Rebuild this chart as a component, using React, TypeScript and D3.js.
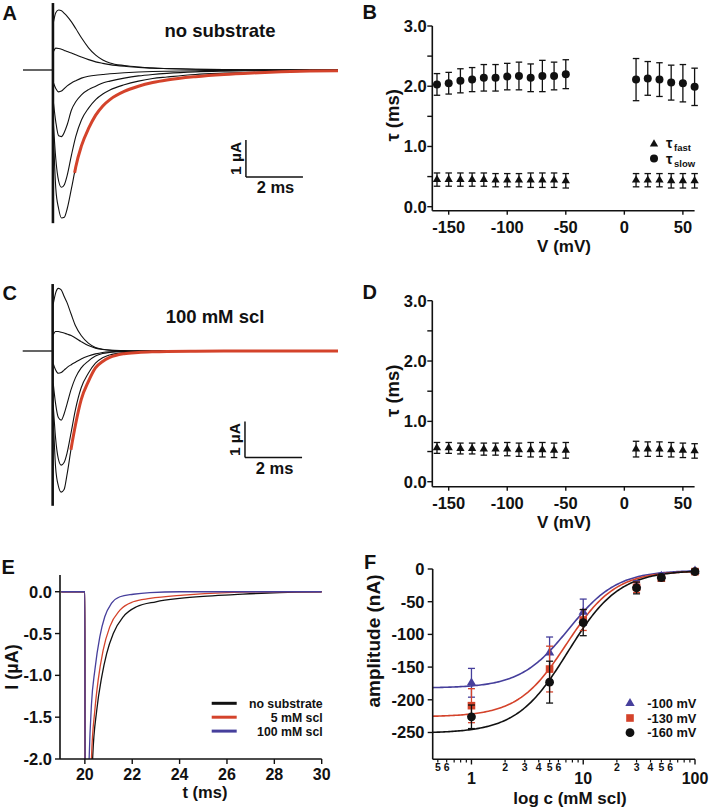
import React from 'react';
import * as d3 from 'd3';

const FONT = "'Liberation Sans', Arial, Helvetica, sans-serif";
const INK = '#111111';
const RED = '#d4432b';
const BLUE = '#463f9c';

// ---------- Panels A & C: currents (µA) sampled at times after the voltage step (ms)
const traceTimes = [0.02, 0.1, 0.2, 0.3, 0.4, 0.5, 0.65, 0.8, 1.0, 1.25, 1.5, 1.75, 2.0, 2.5, 3.0, 3.5, 4.0, 5.0, 6.0, 7.0, 8.0, 9.0, 10.0];
const traceA1 = [1.3, 1.55, 1.62, 1.6, 1.53, 1.45, 1.3, 1.12, 0.87, 0.6, 0.4, 0.27, 0.19, 0.12, 0.08, 0.055, 0.04, 0.02, 0.01, 0.005, 0, 0, 0];
const traceA2 = [0.5, 0.59, 0.58, 0.56, 0.53, 0.5, 0.46, 0.41, 0.35, 0.28, 0.22, 0.18, 0.145, 0.1, 0.072, 0.05, 0.038, 0.02, 0.012, 0.007, 0.004, 0.002, 0];
const traceA3 = [-0.35, -0.5, -0.59, -0.57, -0.5, -0.43, -0.35, -0.29, -0.22, -0.17, -0.14, -0.12, -0.1, -0.075, -0.055, -0.042, -0.033, -0.02, -0.012, -0.007, -0.004, -0.002, 0];
const traceA4 = [-0.9, -1.4, -1.78, -1.8, -1.68, -1.48, -1.08, -0.86, -0.67, -0.53, -0.44, -0.35, -0.3, -0.22, -0.16, -0.12, -0.09, -0.05, -0.03, -0.018, -0.01, -0.005, -0.002];
const traceA5 = [-1.5, -2.4, -3.0, -3.17, -3.1, -2.85, -2.3, -1.8, -1.35, -1.03, -0.8, -0.65, -0.54, -0.4, -0.3, -0.23, -0.19, -0.12, -0.085, -0.06, -0.04, -0.025, -0.015];
const traceA6 = [-1.8, -3.2, -3.75, -4.0, -3.98, -3.75, -3.2, -2.62, -2.05, -1.58, -1.22, -0.97, -0.8, -0.58, -0.44, -0.34, -0.27, -0.18, -0.12, -0.08, -0.05, -0.03, -0.02];
const redFitAT = [0.76, 0.8, 1.0, 1.25, 1.5, 1.75, 2.0, 2.5, 3.0, 3.5, 4.0, 5.0, 6.0, 7.0, 8.0, 9.0, 10.0];
const redFitAI = [-2.78, -2.62, -2.05, -1.58, -1.22, -0.97, -0.8, -0.58, -0.44, -0.34, -0.27, -0.18, -0.12, -0.08, -0.05, -0.03, -0.02];

const traceC1 = [1.3, 1.6, 1.74, 1.7, 1.52, 1.35, 1.02, 0.7, 0.43, 0.22, 0.1, 0.05, 0.025, 0.01, 0, 0, 0, 0, 0, 0, 0, 0, 0];
const traceC2 = [0.45, 0.54, 0.54, 0.52, 0.5, 0.47, 0.43, 0.36, 0.26, 0.15, 0.08, 0.04, 0.02, 0.005, 0, 0, 0, 0, 0, 0, 0, 0, 0];
const traceC3 = [-0.35, -0.52, -0.62, -0.6, -0.53, -0.46, -0.38, -0.31, -0.22, -0.14, -0.08, -0.04, -0.02, -0.005, 0, 0, 0, 0, 0, 0, 0, 0, 0];
const traceC4 = [-0.9, -1.45, -1.85, -1.92, -1.75, -1.48, -1.06, -0.74, -0.47, -0.28, -0.14, -0.07, -0.04, -0.01, 0, 0, 0, 0, 0, 0, 0, 0, 0];
const traceC5 = [-1.5, -2.4, -3.0, -3.17, -3.1, -2.85, -2.25, -1.62, -1.02, -0.62, -0.34, -0.19, -0.11, -0.045, -0.02, -0.01, 0, 0, 0, 0, 0, 0, 0];
const traceC6 = [-1.8, -3.2, -3.75, -3.92, -3.85, -3.45, -2.7, -2.05, -1.35, -0.85, -0.47, -0.29, -0.18, -0.075, -0.04, -0.022, -0.012, -0.005, 0, 0, 0, 0, 0];
const redFitCT = [0.64, 0.8, 1.0, 1.25, 1.5, 1.75, 2.0, 2.5, 3.0, 3.5, 4.0, 5.0, 6.0, 7.0, 8.0, 9.0, 10.0];
const redFitCI = [-2.74, -2.05, -1.35, -0.85, -0.47, -0.29, -0.18, -0.075, -0.04, -0.022, -0.012, -0.005, 0, 0, 0, 0, 0];

const preTimes = [-1.05, 0];
const artifactA = [1.81, -4.14];
const artifactC = [1.86, -4.3];

// ---------- Panels B & D: time constants (ms) vs voltage (mV)
const voltages = [-160, -150, -140, -130, -120, -110, -100, -90, -80, -70, -60, -50, 10, 20, 30, 40, 50, 60];
const tauSlowB = [2.03, 2.05, 2.09, 2.11, 2.14, 2.14, 2.16, 2.17, 2.14, 2.17, 2.17, 2.2, 2.11, 2.13, 2.11, 2.06, 2.05, 1.99];
const tauSlowErrB = [0.18, 0.18, 0.2, 0.2, 0.22, 0.22, 0.22, 0.23, 0.23, 0.26, 0.23, 0.24, 0.35, 0.28, 0.28, 0.29, 0.31, 0.31];
const tauFastB = [0.45, 0.45, 0.45, 0.45, 0.45, 0.44, 0.44, 0.44, 0.44, 0.44, 0.44, 0.43, 0.44, 0.44, 0.44, 0.43, 0.43, 0.43];
const tauFastErrB = [0.11, 0.11, 0.11, 0.11, 0.11, 0.11, 0.11, 0.11, 0.12, 0.12, 0.12, 0.12, 0.11, 0.11, 0.11, 0.12, 0.12, 0.12];
const tauFastD = [0.56, 0.56, 0.55, 0.55, 0.54, 0.54, 0.54, 0.53, 0.53, 0.53, 0.52, 0.52, 0.54, 0.54, 0.54, 0.53, 0.52, 0.51];
const tauFastErrD = [0.09, 0.09, 0.09, 0.09, 0.1, 0.1, 0.11, 0.11, 0.12, 0.12, 0.12, 0.13, 0.13, 0.12, 0.12, 0.12, 0.12, 0.12];
const vTicks = [-150, -100, -50, 0, 50];
const tauTicks = [0, 0.5, 1, 1.5, 2, 2.5, 3];
const tauLabels = [0, 1, 2, 3];
const tauLegend = ['fast', 'slow'];

// ---------- Panel E: currents (µA) vs time (ms)
const eBlackT = [19, 19.98, 20.0, 20.01, 20.27, 20.33, 20.5, 20.71, 20.92, 21.2, 21.62, 22.18, 23.0, 24.0, 25.0, 26.3, 27.7, 29, 30];
const eBlackI = [0, 0, 0, -2.6, -2.6, -1.98, -1.42, -1.02, -0.74, -0.5, -0.3, -0.18, -0.12, -0.08, -0.055, -0.035, -0.015, -0.005, 0];
const eRedT = [19, 19.98, 20.0, 20.01, 20.22, 20.28, 20.42, 20.56, 20.77, 21.05, 21.48, 22.04, 22.75, 24.16, 26, 28, 30];
const eRedI = [0, 0, 0, -2.6, -2.6, -1.98, -1.42, -1.06, -0.7, -0.42, -0.22, -0.12, -0.08, -0.04, -0.01, 0, 0];
const eBlueT = [19, 19.98, 20.0, 20.01, 20.13, 20.18, 20.28, 20.42, 20.63, 20.84, 21.12, 21.48, 22.04, 22.75, 24, 30];
const eBlueI = [0, 0, 0, -2.6, -2.6, -2.0, -1.34, -0.94, -0.54, -0.3, -0.14, -0.06, -0.03, -0.01, 0, 0];
const eYTicks = [0, -0.5, -1, -1.5, -2];
const eXTicks = [20, 22, 24, 26, 28, 30];
const eLegend = ['no substrate', '5 mM scl', '100 mM scl'];

// ---------- Panel F: amplitude (nA) vs concentration (mM)
const concs = [1, 5, 10, 30, 50, 100];
const amp100 = [-174, -128, -66, -25, -11, -3];
const amp100Err = [22, 24, 20, 7, 4, 3];
const amp130 = [-209, -153, -78, -28, -14, -4];
const amp130Err = [26, 35, 16, 8, 4, 3];
const amp160 = [-226, -173, -82, -29, -13, -4];
const amp160Err = [18, 32, 20, 9, 5, 3];
const fitBottom = [-182, -226, -251];
const fitTop = [-2, -3, -2];
const fitEC50 = [7.4, 7.1, 7.3];
const fitHill = [2.0, 2.0, 1.9];
const fYTicks = [0, -50, -100, -150, -200, -250];
const fMajor = [1, 10, 100];
const fMinor = [0.5, 0.6, 0.7, 0.8, 0.9, 2, 3, 4, 5, 6, 7, 8, 9, 20, 30, 40, 50, 60, 70, 80, 90];
const fMinorLabeled = [0.5, 0.6, 2, 3, 4, 5, 6, 20, 30, 40, 50, 60];
const fLegend = ['-100 mV', '-130 mV', '-160 mV'];

type TxtProps = { x: number; y: number; s: number; a?: string; r?: number; fill?: string; children: React.ReactNode };
function Txt({ x, y, s, a = 'start', r, fill = INK, children }: TxtProps) {
  if (r) {
    return (
      <text transform={`translate(${x},${y}) rotate(${r})`} fontSize={s} textAnchor={a as any} fontWeight={700} fill={fill} fontFamily={FONT}>
        {children}
      </text>
    );
  }
  return (
    <text x={x} y={y} fontSize={s} textAnchor={a as any} fontWeight={700} fill={fill} fontFamily={FONT}>
      {children}
    </text>
  );
}

const triPath = (area: number) => d3.symbol().type(d3.symbolTriangle).size(area)() as string;
const sqPath = (area: number) => d3.symbol().type(d3.symbolSquare).size(area)() as string;

function ErrBar({ x, y1, y2, cap, color, sw }: { x: number; y1: number; y2: number; cap: number; color: string; sw: number }) {
  return (
    <g stroke={color} strokeWidth={sw}>
      <line x1={x} x2={x} y1={y1} y2={y2} />
      <line x1={x - cap / 2} x2={x + cap / 2} y1={y1} y2={y1} />
      <line x1={x - cap / 2} x2={x + cap / 2} y1={y2} y2={y2} />
    </g>
  );
}

function TracePanel(props: {
  xs: d3.ScaleLinear<number, number>; ys: d3.ScaleLinear<number, number>;
  traces: number[][]; redT: number[]; redI: number[]; artifact: number[];
  title: string; titleX: number; titleY: number; barT: number; barI: number;
  letter: string; letterY: number;
}) {
  const { xs, ys, traces, redT, redI, artifact, title, titleX, titleY, barT, barI, letter, letterY } = props;
  const tl = d3.line<number>().x((_, i) => xs(traceTimes[i])).y((d) => ys(d)).curve(d3.curveMonotoneX);
  const rl = d3.line<number>().x((_, i) => xs(redT[i])).y((d) => ys(d)).curve(d3.curveMonotoneX);
  const bx0 = xs(barT), bx1 = xs(barT + 2), by0 = ys(barI), by1 = ys(barI + 1);
  return (
    <g>
      <line x1={xs(preTimes[0])} x2={xs(preTimes[1])} y1={ys(0)} y2={ys(0)} stroke={INK} strokeWidth={1.3} />
      {traces.map((tr, k) => (
        <path key={k} d={tl(tr) as string} fill="none" stroke={INK} strokeWidth={1.1} />
      ))}
      <line x1={xs(0)} x2={xs(0)} y1={ys(artifact[0])} y2={ys(artifact[1])} stroke={INK} strokeWidth={2.6} />
      <path d={rl(redI) as string} fill="none" stroke={RED} strokeWidth={3} />
      <line x1={bx0} x2={bx0} y1={by1} y2={by0} stroke={INK} strokeWidth={1.5} />
      <line x1={bx0} x2={bx1} y1={by0} y2={by0} stroke={INK} strokeWidth={1.5} />
      <Txt x={bx0 - 4.5} y={(by0 + by1) / 2} s={15.5} a="middle" r={-90}>1 µA</Txt>
      <Txt x={(bx0 + bx1) / 2 + 1} y={by0 + 16.3} s={16.5} a="middle">2 ms</Txt>
      <Txt x={titleX} y={titleY} s={18.5} a="middle">{title}</Txt>
      <Txt x={2.5} y={letterY} s={20}>{letter}</Txt>
    </g>
  );
}

function TauPanel(props: {
  ys: d3.ScaleLinear<number, number>; axisBottom: number; slow?: boolean;
  fast: number[]; fastErr: number[]; letter: string; letterY: number; legend?: boolean;
}) {
  const { ys, axisBottom, slow, fast, fastErr, letter, letterY, legend } = props;
  const xs = d3.scaleLinear().domain([-164, 60]).range([432.3, 694.6]);
  const x0 = xs.range()[0], x1 = xs.range()[1];
  const tri = triPath(30);
  return (
    <g>
      <line x1={x0} x2={x0} y1={ys(3)} y2={axisBottom} stroke={INK} strokeWidth={1.6} />
      <line x1={x0} x2={x1} y1={axisBottom} y2={axisBottom} stroke={INK} strokeWidth={1.6} />
      {tauTicks.map((t) => (
        <line key={t} x1={x0 - 5} x2={x0} y1={ys(t)} y2={ys(t)} stroke={INK} strokeWidth={1.4} />
      ))}
      {tauLabels.map((t) => (
        <Txt key={t} x={x0 - 5.5} y={ys(t) + 6} s={16.5} a="end">{t.toFixed(1)}</Txt>
      ))}
      {vTicks.map((v) => (
        <g key={v}>
          <line x1={xs(v)} x2={xs(v)} y1={axisBottom} y2={axisBottom + 4} stroke={INK} strokeWidth={1.4} />
          <Txt x={xs(v)} y={axisBottom + 22} s={16.5} a="middle">{String(v)}</Txt>
        </g>
      ))}
      <Txt x={564} y={axisBottom + 41.2} s={17} a="middle">V (mV)</Txt>
      <Txt x={399} y={(ys(3) + axisBottom) / 2 - 3} s={18.5} a="middle" r={-90}>τ (ms)</Txt>
      {slow &&
        voltages.map((v, i) => (
          <g key={'s' + v}>
            <ErrBar x={xs(v)} y1={ys(tauSlowB[i] + tauSlowErrB[i])} y2={ys(tauSlowB[i] - tauSlowErrB[i])} cap={6.5} color={INK} sw={1.3} />
            <circle cx={xs(v)} cy={ys(tauSlowB[i])} r={4} fill={INK} />
          </g>
        ))}
      {voltages.map((v, i) => (
        <g key={'f' + v}>
          <ErrBar x={xs(v)} y1={ys(fast[i] + fastErr[i])} y2={ys(fast[i] - fastErr[i])} cap={6.5} color={INK} sw={1.3} />
          <path d={tri} transform={`translate(${xs(v)},${ys(fast[i])})`} fill={INK} />
        </g>
      ))}
      {legend && (
        <g>
          {tauLegend.map((sub, i) => (
            <g key={sub}>
              {i === 0 ? (
                <path d={tri} transform={`translate(654,${144 + i * 15.6})`} fill={INK} />
              ) : (
                <circle cx={654} cy={143 + i * 15.6} r={4} fill={INK} />
              )}
              <text x={666} y={148 + i * 16.2} fontFamily={FONT} fontWeight={700} fill={INK} fontSize={14.5}>
                τ<tspan dx={1.5} dy={3} fontSize={9.5}>{sub}</tspan>
              </text>
            </g>
          ))}
        </g>
      )}
      <Txt x={362.5} y={letterY} s={20}>{letter}</Txt>
    </g>
  );
}

export default function App() {
  const xA = d3.scaleLinear().domain([-1.05, 10]).range([23, 338]);
  const yA = d3.scaleLinear().domain([0, 1]).range([70, 33]);
  const xC = d3.scaleLinear().domain([-1.05, 10]).range([22.7, 338]);
  const yC = d3.scaleLinear().domain([0, 1]).range([351, 315]);

  const yB = d3.scaleLinear().domain([0, 3]).range([206.7, 26]);
  const yD = d3.scaleLinear().domain([0, 3]).range([481.7, 300.7]);

  // Panel E
  const xE = d3.scaleLinear().domain([18.95, 30]).range([60, 321.7]);
  const yE = d3.scaleLinear().domain([-2, 0.2]).range([759, 575]);
  const eLine = (ts: number[]) =>
    d3.line<number>().x((_, i) => xE(ts[i])).y((d) => yE(d)).curve(d3.curveMonotoneX);
  const eSeries = [
    { t: eBlackT, v: eBlackI, c: INK },
    { t: eRedT, v: eRedI, c: RED },
    { t: eBlueT, v: eBlueI, c: BLUE },
  ];

  // Panel F
  const xF = d3.scaleLog().domain([0.45, 100]).range([432.7, 695]);
  const yF = d3.scaleLinear().domain([-291, 0]).range([759.3, 569]);
  const fitCs = d3.range(0, 161).map((i) => Math.pow(10, Math.log10(0.45) + (i / 160) * (2 - Math.log10(0.45))));
  const fitColors = [BLUE, RED, INK];
  const fitLine = (k: number) =>
    d3
      .line<number>()
      .x((c) => xF(c))
      .y((c) => yF(fitBottom[k] + (fitTop[k] - fitBottom[k]) / (1 + Math.pow(fitEC50[k] / c, fitHill[k]))))(fitCs) as string;
  const fSeries = [
    { v: amp100, e: amp100Err, c: BLUE, shape: 'tri' },
    { v: amp130, e: amp130Err, c: RED, shape: 'sq' },
    { v: amp160, e: amp160Err, c: INK, shape: 'circ' },
  ];
  const fTri = triPath(38);
  const fSq = sqPath(58);
  const marker = (shape: string, x: number, y: number, c: string) =>
    shape === 'tri' ? (
      <path d={fTri} transform={`translate(${x},${y})`} fill={c} />
    ) : shape === 'sq' ? (
      <path d={fSq} transform={`translate(${x},${y})`} fill={c} />
    ) : (
      <circle cx={x} cy={y} r={4.4} fill={c} />
    );

  return (
    <svg width={712} height={809} style={{ position: 'absolute', left: 0, top: 0, background: '#fff' }}>
      <rect x={0} y={0} width={712} height={809} fill="#fff" />
      <defs>
        <clipPath id="clipE">
          <rect x={60} y={560} width={263} height={199} />
        </clipPath>
      </defs>

      <TracePanel xs={xA} ys={yA} traces={[traceA1, traceA2, traceA3, traceA4, traceA5, traceA6]} redT={redFitAT} redI={redFitAI}
        artifact={artifactA} title="no substrate" titleX={220} titleY={37.3} barT={6.77} barI={-2.89} letter="A" letterY={19.5} />
      <TracePanel xs={xC} ys={yC} traces={[traceC1, traceC2, traceC3, traceC4, traceC5, traceC6]} redT={redFitCT} redI={redFitCI}
        artifact={artifactC} title="100 mM scl" titleX={215} titleY={322.7} barT={6.74} barI={-2.96} letter="C" letterY={300} />

      <TauPanel ys={yB} axisBottom={210.7} slow fast={tauFastB} fastErr={tauFastErrB} letter="B" letterY={18.5} legend />
      <TauPanel ys={yD} axisBottom={486.7} fast={tauFastD} fastErr={tauFastErrD} letter="D" letterY={298.5} />

      {/* Panel E */}
      <g>
        <g clipPath="url(#clipE)">
          {eSeries.map((s, k) => (
            <path key={k} d={eLine(s.t)(s.v) as string} fill="none" stroke={s.c} strokeWidth={1.3} />
          ))}
        </g>
        <line x1={60} x2={60} y1={575} y2={759} stroke={INK} strokeWidth={1.6} />
        <line x1={60} x2={321.7} y1={759} y2={759} stroke={INK} strokeWidth={1.6} />
        {eYTicks.map((v) => (
          <g key={v}>
            <line x1={55} x2={60} y1={yE(v)} y2={yE(v)} stroke={INK} strokeWidth={1.4} />
            <Txt x={52} y={yE(v) + 6} s={16.5} a="end">{v.toFixed(1)}</Txt>
          </g>
        ))}
        {eXTicks.map((v) => (
          <g key={v}>
            <line x1={xE(v)} x2={xE(v)} y1={759} y2={764} stroke={INK} strokeWidth={1.4} />
            <Txt x={xE(v)} y={779.5} s={16} a="middle">{String(v)}</Txt>
          </g>
        ))}
        <Txt x={205} y={798} s={16.5} a="middle">t (ms)</Txt>
        <Txt x={18} y={667} s={18} a="middle" r={-90}>I (µA)</Txt>
        {eLegend.map((name, i) => (
          <g key={name}>
            <line x1={211.7} x2={236.7} y1={703.3 + i * 13.9} y2={703.3 + i * 13.9} stroke={eSeries[i].c} strokeWidth={3} />
            <Txt x={322.7} y={707.8 + i * 13.9} s={12.3} a="end">{name}</Txt>
          </g>
        ))}
        <Txt x={1.5} y={573.5} s={20}>E</Txt>
      </g>

      {/* Panel F */}
      <g>
        {fitColors.map((c, k) => (
          <path key={k} d={fitLine(k)} fill="none" stroke={c} strokeWidth={1.6} />
        ))}
        {fSeries.map((s, k) => (
          <g key={k}>
            {concs.map((c, i) => (
              <g key={c}>
                <ErrBar x={xF(c)} y1={yF(s.v[i] + s.e[i])} y2={yF(s.v[i] - s.e[i])} cap={7} color={s.c} sw={1.3} />
                {marker(s.shape, xF(c), yF(s.v[i]), s.c)}
              </g>
            ))}
          </g>
        ))}
        <line x1={432.7} x2={432.7} y1={569} y2={759.3} stroke={INK} strokeWidth={1.6} />
        <line x1={432.7} x2={695} y1={759.3} y2={759.3} stroke={INK} strokeWidth={1.6} />
        {fYTicks.map((v) => (
          <g key={v}>
            <line x1={427.7} x2={432.7} y1={yF(v)} y2={yF(v)} stroke={INK} strokeWidth={1.4} />
            <Txt x={424.5} y={yF(v) + 6} s={16.5} a="end">{String(v)}</Txt>
          </g>
        ))}
        {fMajor.map((v) => (
          <g key={v}>
            <line x1={xF(v)} x2={xF(v)} y1={759.3} y2={764.5} stroke={INK} strokeWidth={1.4} />
            <Txt x={xF(v)} y={784.3} s={16} a="middle">{String(v)}</Txt>
          </g>
        ))}
        {fMinor.map((v) => (
          <line key={v} x1={xF(v)} x2={xF(v)} y1={759.3} y2={762.5} stroke={INK} strokeWidth={1.2} />
        ))}
        {fMinorLabeled.map((v) => (
          <Txt key={v} x={xF(v)} y={770.5} s={10.5} a="middle">{String(Math.round(v < 1 ? v * 10 : v >= 10 ? v / 10 : v))}</Txt>
        ))}
        <Txt x={570} y={803.6} s={17} a="middle">log c (mM scl)</Txt>
        <Txt x={380} y={641} s={19} a="middle" r={-90}>amplitude (nA)</Txt>
        {fLegend.map((name, i) => (
          <g key={name}>
            {marker(fSeries[i].shape, 630, 703.3 + i * 14.7, fSeries[i].c)}
            <Txt x={647.3} y={708 + i * 14.7} s={12.8}>{name}</Txt>
          </g>
        ))}
        <Txt x={364} y={568.5} s={20}>F</Txt>
      </g>
    </svg>
  );
}
